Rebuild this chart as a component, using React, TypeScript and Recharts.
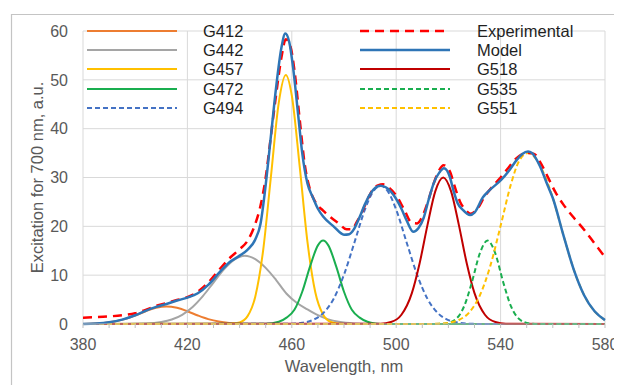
import { LineChart, Line, XAxis, YAxis, CartesianGrid, Legend, Label } from 'recharts';

const FONT = '"Liberation Sans", Arial, sans-serif';

// axis ticks
const wavelengthTicks = [380, 390, 400, 410, 420, 430, 440, 450, 460, 470, 480, 490, 500, 510, 520, 530, 540, 550, 560, 570, 580];
const wavelengthLabels = [380, 420, 460, 500, 540, 580];
const excitationTicks = [0, 10, 20, 30, 40, 50, 60];

// measured spectrum
const expNm = [380, 385, 390, 395, 400, 404, 408, 412, 416, 420, 424, 428, 432, 436, 440, 443, 446, 448, 450, 452, 454, 456, 457.7, 459.5, 461, 463, 465, 467, 469, 472, 475, 478, 481, 483, 485, 487, 489, 491, 493, 495, 497, 500, 503, 506, 508, 510, 512, 514, 516, 518.2, 520.5, 522.5, 524.5, 526.5, 528.5, 531, 534, 537, 540, 543, 546, 549, 551, 553, 555, 558, 561, 564, 568, 572, 576, 580];
const experimental = [1.3, 1.4, 1.55, 1.8, 2.2, 2.9, 3.7, 4.3, 4.9, 5.5, 6.6, 8.5, 11.0, 13.4, 15.3, 17.0, 20.5, 24.2, 30, 38.5, 47, 54.5, 58.3, 56.8, 52, 42, 32.5, 27.5, 25, 23.2, 21.8, 20.6, 19.4, 19.4, 21, 23, 25.5, 27.5, 28.4, 28.6, 28, 26.3, 23.5, 20.7, 20.6, 22, 24.8, 28.2, 31, 32.5, 31.3, 28, 25, 23.4, 22.6, 23.5, 26.2, 28.2, 30, 32, 33.9, 34.9, 35, 34.8, 33.3, 30.2, 27, 24.5, 21.8, 19.3, 16.5, 13.7];

// fitted model (sum of components)
const modelNm = [380, 385, 390, 395, 400, 404, 408, 412, 416, 420, 424, 428, 432, 436, 440, 443, 446, 448, 450, 452, 454, 456, 457.5, 459, 460.5, 462.5, 464, 466, 468, 470, 472, 476, 480, 482, 484, 486, 488, 490, 492, 494, 496, 499, 502, 504, 506.5, 508.5, 510.5, 512.5, 514.5, 516.5, 518.3, 520.5, 522, 523.5, 525.5, 528.3, 530, 533.3, 536, 540.2, 543.5, 546.2, 548.3, 550.5, 552, 555, 558, 560, 564, 568, 572, 576, 580];
const model = [0.02, 0.1, 0.35, 0.9, 1.8, 2.7, 3.5, 4.1, 4.8, 5.4, 6.3, 8.0, 10.4, 12.6, 14.0, 15.2, 17.3, 20.5, 28.5, 38.5, 48.5, 56.5, 59.5, 57.8, 52.5, 42.5, 35, 28.8, 26, 23.6, 22, 20, 18.3, 18.4, 19.6, 21.9, 24.5, 26.6, 27.9, 28.3, 28, 26.4, 23.6, 21.2, 18.9, 19.6, 21.7, 25.6, 29, 31, 31.9, 30.2, 27.2, 24.8, 23.4, 22.3, 22.8, 26, 27.5, 29.5, 31.6, 33.6, 34.8, 35.3, 35, 32.4, 28.4, 25.8, 18.3, 11.2, 5.9, 2.6, 0.8];

// gaussian components
const g412Nm = [380, 388, 392, 396, 400, 404, 408, 412, 416, 420, 424, 428, 432, 436, 440, 444, 450, 580];
const g412 = [0.02, 0.2, 0.49, 1.0, 1.75, 2.61, 3.32, 3.6, 3.32, 2.61, 1.75, 1.0, 0.49, 0.2, 0.07, 0.02, 0, 0];

const g442Nm = [380, 396, 404, 410, 414, 418, 422, 426, 430, 434, 438, 442, 446, 450, 454, 458, 462, 466, 470, 474, 478, 484, 490, 580];
const g442 = [0, 0.01, 0.09, 0.4, 0.92, 1.89, 3.49, 5.76, 8.49, 11.2, 13.2, 14, 13.3, 11.5, 9.0, 6.2, 4.3, 3.0, 1.8, 0.95, 0.45, 0.1, 0, 0];

const g457Nm = [380, 436, 440, 443, 446, 449, 452, 455, 457.7, 460, 463, 466, 469, 472, 475, 478, 482, 580];
const g457 = [0, 0.03, 0.33, 1.56, 5.6, 15.0, 30.2, 45.3, 51, 46.8, 32.4, 16.8, 6.5, 1.9, 0.41, 0.07, 0, 0];

const g472Nm = [380, 450, 455, 458, 461, 464, 467, 470, 472, 474, 477, 480, 483, 486, 489, 492, 496, 580];
const g472 = [0, 0.05, 0.45, 1.3, 2.9, 6.6, 11.8, 16.1, 17.1, 16.1, 11.8, 6.6, 2.9, 1.3, 0.45, 0.12, 0, 0];

const g494Nm = [380, 460, 464, 468, 472, 476, 480, 484, 488, 491, 494, 497, 500, 504, 508, 512, 516, 520, 524, 528, 532, 580];
const g494 = [0, 0.06, 0.25, 0.81, 2.21, 5.13, 10.1, 16.7, 23.4, 27.0, 28.3, 27.0, 23.4, 16.7, 10.1, 5.13, 2.21, 0.81, 0.25, 0.06, 0.01, 0];

const g518Nm = [380, 494, 498, 502, 506, 509, 512, 515, 518, 521, 524, 527, 530, 534, 538, 542, 580];
const g518 = [0, 0.06, 0.4, 1.89, 6.32, 12.5, 20.3, 27.2, 30, 27.2, 20.3, 12.5, 6.32, 1.89, 0.4, 0.06, 0];

const g535Nm = [380, 515, 519, 523, 526, 529, 532, 535, 538, 541, 544, 547, 551, 555, 580];
const g535 = [0, 0.01, 0.12, 1.07, 3.6, 8.56, 14.4, 17.1, 14.4, 8.56, 3.6, 1.07, 0.12, 0.01, 0];

const g551Nm = [380, 512, 516, 520, 524, 528, 532, 536, 540, 544, 547, 550.5, 553, 556, 560, 564, 568, 572, 576, 580];
const g551 = [0, 0.01, 0.06, 0.24, 0.82, 2.38, 5.79, 11.8, 20.1, 28.7, 33.3, 35, 34.2, 31.5, 25.8, 18.3, 11.2, 5.9, 2.6, 0.8];

const leftLegend = ['G412', 'G442', 'G457', 'G472', 'G494'];
const rightLegend = ['Experimental', 'Model', 'G518', 'G535', 'G551'];

interface SeriesStyle {
  color: string;
  width: number;
  dash?: string;
}

const styles: Record<string, SeriesStyle> = {
  Experimental: { color: '#ff0000', width: 2.5, dash: '9 6' },
  Model: { color: '#2e75b6', width: 2.5 },
  G412: { color: '#ed7d31', width: 2 },
  G442: { color: '#a5a5a5', width: 2 },
  G457: { color: '#ffc000', width: 2 },
  G472: { color: '#1aae4f', width: 2 },
  G494: { color: '#4472c4', width: 2, dash: '5 3' },
  G518: { color: '#c00000', width: 2 },
  G535: { color: '#1aae4f', width: 2, dash: '5 3' },
  G551: { color: '#ffc000', width: 2, dash: '5 3' },
};

const toPoints = (nm: number[], v: number[]) => nm.map((x, i) => ({ nm: x, v: v[i] }));

// drawing order: components first, then measured, then model on top
const series = [
  { name: 'G412', data: toPoints(g412Nm, g412) },
  { name: 'G442', data: toPoints(g442Nm, g442) },
  { name: 'G457', data: toPoints(g457Nm, g457) },
  { name: 'G472', data: toPoints(g472Nm, g472) },
  { name: 'G494', data: toPoints(g494Nm, g494) },
  { name: 'G518', data: toPoints(g518Nm, g518) },
  { name: 'G535', data: toPoints(g535Nm, g535) },
  { name: 'G551', data: toPoints(g551Nm, g551) },
  { name: 'Experimental', data: toPoints(expNm, experimental) },
  { name: 'Model', data: toPoints(modelNm, model) },
];

const LegendBlock = () => {
  const columns = [
    { names: leftLegend, lineX: 79, textX: 195 },
    { names: rightLegend, lineX: 352, textX: 469 },
  ];
  return (
    <div style={{ position: 'relative', width: 614, height: 130, fontFamily: FONT, fontSize: 16.5, color: '#1f1f1f' }}>
      {columns.map((col) =>
        col.names.map((name, r) => {
          const s = styles[name];
          const cy = 22.5 + 19.4 * r;
          return (
            <div key={name}>
              <svg
                width={90}
                height={20}
                style={{ position: 'absolute', left: col.lineX, top: cy - 10 }}
              >
                <line x1={0} y1={10} x2={90} y2={10} stroke={s.color} strokeWidth={s.width} strokeDasharray={s.dash} />
              </svg>
              <span style={{ position: 'absolute', left: col.textX, top: cy - 10, lineHeight: '20px', whiteSpace: 'nowrap' }}>
                {name}
              </span>
            </div>
          );
        })
      )}
    </div>
  );
};

export default function App() {
  return (
    <div style={{ position: 'relative', width: 614, height: 377, fontFamily: FONT }}>
      <LineChart width={614} height={377} margin={{ top: 23, right: 17, bottom: 15, left: 0 }}>
        <CartesianGrid stroke="#d9d9d9" verticalValues={wavelengthLabels} horizontalValues={excitationTicks} />
        <XAxis
          type="number"
          dataKey="nm"
          domain={[380, 580]}
          ticks={wavelengthTicks}
          interval={0}
          tickFormatter={(v: number) => (wavelengthLabels.includes(v) ? String(v) : '')}
          height={46}
          tickSize={4}
          tickMargin={11}
          stroke="#bfbfbf"
          tick={{ fill: '#595959', fontSize: 16, fontFamily: FONT }}
        >
          <Label
            content={({ viewBox }: any) => (
              <text
                x={viewBox.x + viewBox.width / 2}
                y={viewBox.y + 47.5}
                textAnchor="middle"
                fill="#595959"
                fontSize={16.5}
                fontFamily={FONT}
              >
                Wavelength, nm
              </text>
            )}
          />
        </XAxis>
        <YAxis
          type="number"
          domain={[0, 60]}
          ticks={excitationTicks}
          width={75}
          axisLine={false}
          tickLine={false}
          tickSize={0}
          tickMargin={15}
          tick={{ fill: '#595959', fontSize: 16, fontFamily: FONT }}
        >
          <Label
            content={({ viewBox }: any) => {
              const x = viewBox.x + 35;
              const y = viewBox.y + viewBox.height / 2;
              return (
                <text
                  x={x}
                  y={y}
                  transform={`rotate(-90 ${x} ${y})`}
                  textAnchor="middle"
                  fill="#595959"
                  fontSize={16.5}
                  fontFamily={FONT}
                >
                  Excitation for 700 nm, a.u.
                </text>
              );
            }}
          />
        </YAxis>
        <Legend
          layout="horizontal"
          verticalAlign="middle"
          align="center"
          wrapperStyle={{ top: 0, left: 0, width: 614, height: 130 }}
          content={() => <LegendBlock />}
        />
        {series.map((s) => {
          const st = styles[s.name];
          return (
            <Line
              key={s.name}
              data={s.data}
              dataKey="v"
              name={s.name}
              type="monotone"
              stroke={st.color}
              strokeWidth={st.width}
              strokeDasharray={st.dash}
              dot={false}
              activeDot={false}
              isAnimationActive={false}
            />
          );
        })}
      </LineChart>
      {/* outer chart frame: only the top and left edges fall inside the window */}
      <svg
        width={614}
        height={377}
        style={{ position: 'absolute', left: 0, top: 0, zIndex: 5, pointerEvents: 'none' }}
      >
        <path d="M3.5 377 V6.5 H614" fill="none" stroke="#c4c4c4" strokeWidth={1.2} />
      </svg>
    </div>
  );
}
